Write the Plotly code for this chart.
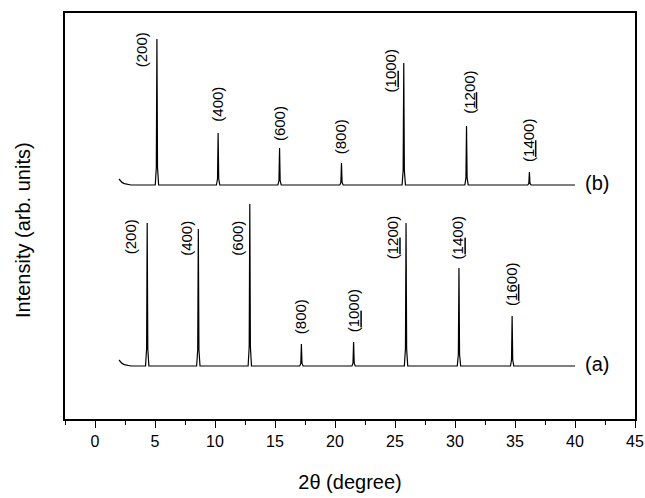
import plotly.graph_objects as go

# ---------------- data ----------------
# pattern (a)
peaks_a_pos = [4.35, 8.61, 12.90, 17.20, 21.55, 25.92, 30.33, 34.76]
peaks_a_int = [143, 137, 162, 22, 24, 143, 98, 50]
labels_a = ["(200)", "(400)", "(600)", "(800)", "(1000)", "(1200)", "(1400)", "(1600)"]
offset_a = 53

# pattern (b)
peaks_b_pos = [5.16, 10.26, 15.38, 20.54, 25.73, 30.96, 36.20]
peaks_b_int = [146, 52, 37, 22, 122, 59, 13]
labels_b = ["(200)", "(400)", "(600)", "(800)", "(1000)", "(1200)", "(1400)"]
offset_b = 234

# low-angle tail at the start of each scan
tail_x = [2.0, 2.1, 2.25, 2.45, 2.7, 3.0]
tail_y = [6, 4.2, 2.6, 1.4, 0.6, 0]
scan_end = 40.0

# label anchors (degrees, intensity units) – layout only
label_a_x = [2.98, 7.61, 11.85, 17.14, 21.57, 24.81, 30.24, 34.70]
label_a_y = [164, 162, 162, 84, 86, 159, 159, 112]
label_b_x = [3.90, 10.18, 15.38, 20.48, 24.66, 31.19, 36.12]
label_b_y = [351, 296, 277, 264, 326, 304, 256]

FONT = "Liberation Sans, Arial, sans-serif"

W, H = 645, 498
ML, MR, MT, MB = 65, 10, 13, 79
PW, PH = W - ML - MR, H - MT - MB


def pattern(pos, inten, off):
    xs = list(tail_x)
    ys = [off + v for v in tail_y]
    for p, h in zip(pos, inten):
        xs += [p - 0.14, p - 0.05, p, p + 0.05, p + 0.14]
        ys += [off, off + 0.12 * h, off + h, off + 0.12 * h, off]
    xs.append(scan_end)
    ys.append(off)
    return xs, ys


def fmt(lbl):
    inner = lbl[1:-1]
    if len(inner) == 4:
        return "(<u>" + inner[:2] + "</u>" + inner[2:] + ")"
    return lbl


fig = go.Figure()
for pos, inten, off in [(peaks_a_pos, peaks_a_int, offset_a), (peaks_b_pos, peaks_b_int, offset_b)]:
    xs, ys = pattern(pos, inten, off)
    fig.add_trace(go.Scatter(x=xs, y=ys, mode="lines",
                             line=dict(color="black", width=1.2),
                             showlegend=False, hoverinfo="skip"))

ann = []
for lx, ly, lb in list(zip(label_a_x, label_a_y, labels_a)) + list(zip(label_b_x, label_b_y, labels_b)):
    ann.append(dict(x=lx, y=ly, xref="x", yref="y", text=fmt(lb), textangle=-90,
                    showarrow=False, xanchor="center", yanchor="bottom",
                    font=dict(size=15, color="black", family=FONT),
                    borderpad=0))

ann.append(dict(x=41.8, y=offset_b + 2, xref="x", yref="y", text="(b)", showarrow=False,
                font=dict(size=20, color="black", family=FONT)))
ann.append(dict(x=41.8, y=offset_a + 2, xref="x", yref="y", text="(a)", showarrow=False,
                font=dict(size=20, color="black", family=FONT)))
# y-axis title (centre at page x=23, y=230)
ann.append(dict(x=(23 - ML) / PW, y=(H - MB - 230) / PH, xref="paper", yref="paper",
                text="Intensity (arb. units)", textangle=-90, showarrow=False,
                xanchor="center", yanchor="middle",
                font=dict(size=20, color="black", family=FONT)))

fig.update_layout(
    width=W, height=H,
    margin=dict(l=ML, r=MR, t=MT, b=MB),
    paper_bgcolor="white", plot_bgcolor="white",
    font=dict(family=FONT, color="black"),
    annotations=ann,
    xaxis=dict(range=[-2.5, 45], tick0=0, dtick=5, ticks="outside", ticklen=7, tickwidth=1.3,
               tickcolor="black", showline=True, linecolor="black", linewidth=1.5, mirror=True,
               showgrid=False, zeroline=False, automargin=False, ticklabeloverflow="allow",
               tickfont=dict(size=16, color="black"),
               minor=dict(dtick=2.5, tick0=0, ticks="outside", ticklen=4, tickwidth=1.2,
                          tickcolor="black", showgrid=False),
               title=dict(text="2θ (degree)", font=dict(size=20, color="black"), standoff=26)),
    yaxis=dict(range=[0, 406], showticklabels=False, ticks="", showline=True, linecolor="black",
               linewidth=1.5, mirror=True, showgrid=False, zeroline=False, automargin=False),
)

fig.write_html("out.html",
               config={"displayModeBar": False},
               post_script="document.documentElement.style.overflow='hidden';"
                           "document.body.style.margin='0';")
